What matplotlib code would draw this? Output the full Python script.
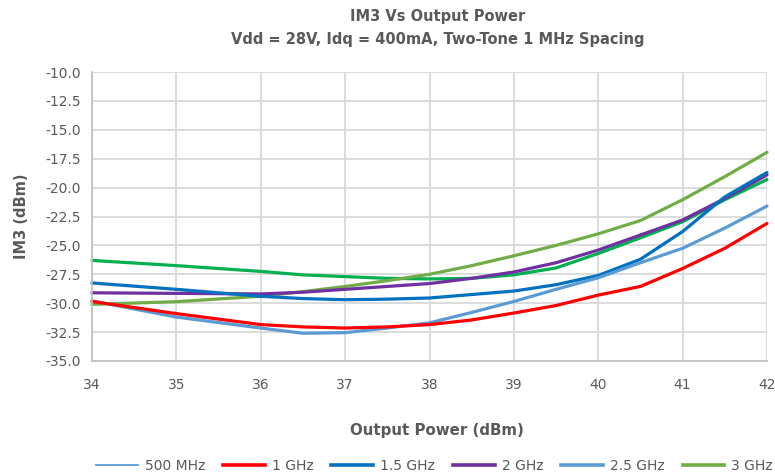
import matplotlib
matplotlib.use("Agg")
import matplotlib.pyplot as plt
from matplotlib.lines import Line2D

plt.rcParams['font.family'] = ['Liberation Sans Narrow', 'DejaVu Sans']

# ---- data ----
power = [34, 35, 36, 36.5, 37, 37.5, 38, 38.5, 39, 39.5, 40, 40.5, 41, 41.5, 42]
im3_green = [-26.3, -26.75, -27.25, -27.55, -27.7, -27.85, -27.9, -27.85, -27.55, -26.95, -25.7, -24.35, -22.95, -21.05, -19.3]
im3_1ghz = [-29.85, -30.9, -31.85, -32.05, -32.15, -32.05, -31.85, -31.45, -30.85, -30.2, -29.3, -28.55, -27.0, -25.25, -23.1]
im3_15ghz = [-28.25, -28.8, -29.4, -29.6, -29.7, -29.65, -29.55, -29.25, -28.95, -28.4, -27.6, -26.2, -23.8, -20.8, -18.7]
im3_2ghz = [-29.1, -29.15, -29.2, -29.05, -28.8, -28.55, -28.3, -27.85, -27.3, -26.5, -25.4, -24.1, -22.8, -20.95, -18.9]
im3_25ghz = [-29.8, -31.2, -32.15, -32.6, -32.55, -32.15, -31.7, -30.8, -29.85, -28.8, -27.8, -26.5, -25.25, -23.5, -21.6]
im3_3ghz = [-30.1, -29.87, -29.4, -29.0, -28.55, -28.05, -27.5, -26.75, -25.9, -25.0, -24.0, -22.85, -21.05, -19.05, -16.95]

legend_labels = ['500 MHz', '1 GHz', '1.5 GHz', '2 GHz', '2.5 GHz', '3 GHz']
legend_colors = ['#5B9BD5', '#FF0000', '#0070C0', '#7030A0', '#5B9BD5', '#70AD47']
legend_widths = [1.3, 2.6, 2.6, 2.6, 2.6, 2.6]

x_ticks = [34, 35, 36, 37, 38, 39, 40, 41, 42]
y_ticks = [-35.0, -32.5, -30.0, -27.5, -25.0, -22.5, -20.0, -17.5, -15.0, -12.5, -10.0]

title_text = "IM3 Vs Output Power\nVdd = 28V, Idq = 400mA, Two-Tone 1 MHz Spacing"
x_label = "Output Power (dBm)"
y_label = "IM3 (dBm)"

txt = '#595959'
grid_c = '#D9D9D9'

fig = plt.figure(figsize=(7.75, 4.75), dpi=100)
ax = fig.add_axes([92/775, 1-361/475, (767-92)/775, (361-72)/475])

series = [
    (im3_green, '#00B050'),
    (im3_3ghz, '#70AD47'),
    (im3_2ghz, '#7030A0'),
    (im3_15ghz, '#0070C0'),
    (im3_25ghz, '#5B9BD5'),
    (im3_1ghz, '#FF0000'),
]
for vals, col in series:
    ax.plot(power, vals, color=col, lw=2.3, solid_capstyle='round', clip_on=False)

ax.set_xlim(34, 42)
ax.set_ylim(-35, -10)
ax.set_xticks(x_ticks)
ax.set_xticklabels([str(t) for t in x_ticks])
ax.set_yticks(y_ticks)
ax.set_yticklabels([f"{t:.1f}" for t in y_ticks])
ax.grid(True, color=grid_c, lw=1.3)
ax.set_axisbelow(True)
for s in ['top', 'right']:
    ax.spines[s].set_visible(False)
for s in ['left', 'bottom']:
    ax.spines[s].set_color('#BFBFBF')
    ax.spines[s].set_linewidth(1.2)
ax.tick_params(length=0, labelsize=10, labelcolor=txt)
ax.tick_params(axis='y', pad=8)
ax.tick_params(axis='x', pad=12)

fig.text(438/775, 1-28/475, title_text, ha='center', va='center', fontsize=10.5,
         fontweight='bold', color=txt, linespacing=1.65)
fig.text(437/775, 1-430/475, x_label, ha='center', va='center', fontsize=10.8,
         fontweight='bold', color=txt)
fig.text(22/775, 1-216/475, y_label, ha='center', va='center', fontsize=10.5,
         fontweight='bold', color=txt, rotation=90)

handles = [Line2D([0], [0], color=c, lw=w) for c, w in zip(legend_colors, legend_widths)]
fig.legend(handles, legend_labels, loc='center left', bbox_to_anchor=(96/775, 1-466/475),
           ncol=6, frameon=False, fontsize=10, labelcolor=txt, handlelength=3.0,
           handletextpad=0.5, columnspacing=1.3, borderaxespad=0, borderpad=0)

fig.savefig('out.png', dpi=100)
